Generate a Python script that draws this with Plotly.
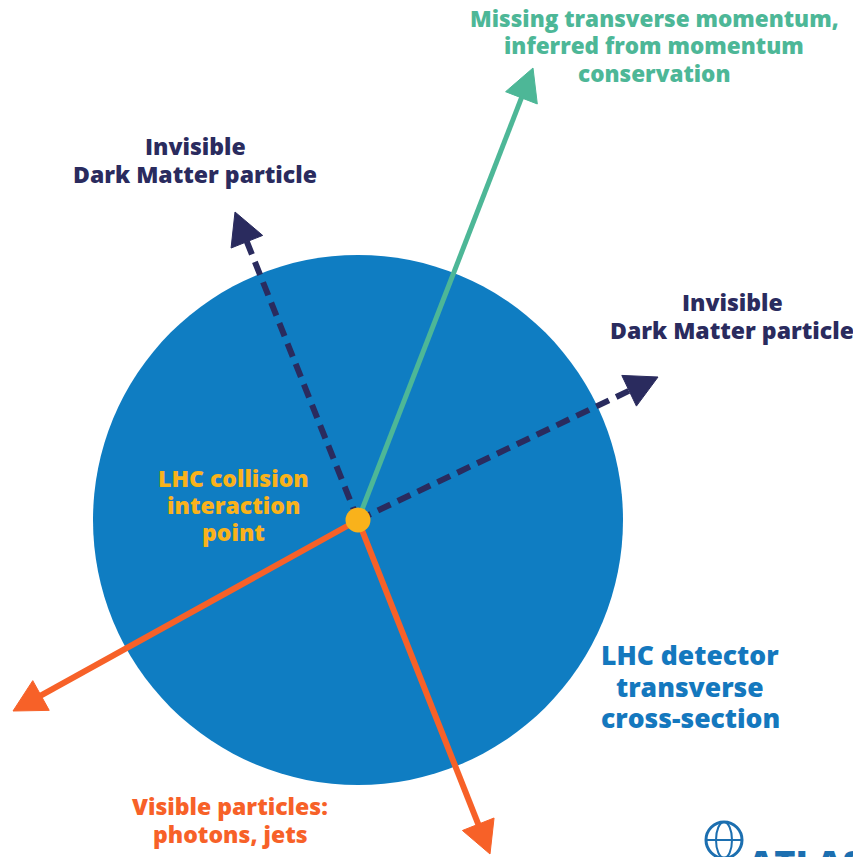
import numpy as np
import plotly.graph_objects as go

# ---- data (diagram coordinates in a 853 x 857 canvas, y downwards) ----
origin_xy = [358, 520]
detector_radius = 265

vec_names = ["dm1", "missing", "dm2", "vis_left", "vis_bottom"]
vec_tip_x = [235, 533, 658, 13, 490]
vec_tip_y = [212, 68, 377, 711, 854]
vec_colors = ["#2A2B5E", "#4DB797", "#2A2B5E", "#F76128", "#F76128"]
vec_dashed = [True, False, True, False, False]
vec_widths = [6, 5, 6, 6, 6]

label_lines = [
    ["Missing transverse momentum,", "inferred from momentum", "conservation"],
    ["Invisible", "Dark Matter particle"],
    ["Invisible", "Dark Matter particle"],
    ["LHC collision", "interaction", "point"],
    ["LHC detector", "transverse", "cross-section"],
    ["Visible particles:", "photons, jets"],
]
label_x = [654, 195, 732, 233, 690, 230]
label_first_y = [18, 146, 302, 478, 655, 806]
label_line_gap = [27.5, 27.5, 28, 27, 31.5, 28]
label_colors = ["#4DB797", "#2A2B5E", "#2A2B5E", "#F9B21B", "#1478BE", "#F76128"]
label_sizes = [22.5, 23, 23, 23, 26.5, 23]

W, H = 853, 857
fig = go.Figure()

ox, oy = origin_xy
# detector disc
fig.add_shape(type="circle", xref="x", yref="y",
              x0=ox - detector_radius, x1=ox + detector_radius,
              y0=oy - detector_radius, y1=oy + detector_radius,
              fillcolor="#0F7DC2", line=dict(width=0), layer="below")

L_head, W_head = 32, 17
for name, tx, ty, col, dashed, lw in zip(vec_names, vec_tip_x, vec_tip_y,
                                         vec_colors, vec_dashed, vec_widths):
    d = np.array([tx - ox, ty - oy], dtype=float)
    u = d / np.linalg.norm(d)
    n = np.array([-u[1], u[0]])
    base = np.array([tx, ty]) - L_head * u
    line_end = base + 4 * u
    fig.add_trace(go.Scatter(
        x=[ox, line_end[0]], y=[oy, line_end[1]], mode="lines",
        line=dict(color=col, width=lw, dash="14px,8px" if dashed else "solid"),
        hoverinfo="skip", showlegend=False))
    p1 = base + W_head * n
    p2 = base - W_head * n
    fig.add_trace(go.Scatter(
        x=[tx, p1[0], p2[0], tx], y=[ty, p1[1], p2[1], ty], mode="lines",
        fill="toself", fillcolor=col, line=dict(color=col, width=1),
        hoverinfo="skip", showlegend=False))

# interaction point
fig.add_trace(go.Scatter(x=[ox], y=[oy], mode="markers",
                         marker=dict(size=25, color="#F9B21B", line=dict(width=0)),
                         hoverinfo="skip", showlegend=False))

for lines, x, y0, gap, c, s in zip(label_lines, label_x, label_first_y,
                                   label_line_gap, label_colors, label_sizes):
    for i, t in enumerate(lines):
        fig.add_annotation(x=x, y=y0 + i * gap, xref="x", yref="y", text=t,
                           showarrow=False, align="center", xanchor="center",
                           yanchor="middle", borderpad=0,
                           font=dict(family="Open Sans", size=s, color=c, weight=800))

# ATLAS logo (partially visible at the bottom edge)
fig.add_shape(type="circle", xref="x", yref="y", x0=706, x1=742, y0=822, y1=858,
              line=dict(color="#1C6FB0", width=3))
fig.add_shape(type="circle", xref="x", yref="y", x0=716, x1=732, y0=822, y1=858,
              line=dict(color="#1C6FB0", width=2))
fig.add_shape(type="line", xref="x", yref="y", x0=707, x1=741, y0=840, y1=840,
              line=dict(color="#1C6FB0", width=2))
fig.add_annotation(x=746, y=836, xref="x", yref="y", text="ATLAS",
                   showarrow=False, xanchor="left", yanchor="top",
                   font=dict(family="Open Sans", size=36, color="#1C6FB0", weight=800))

fig.update_layout(
    width=W, height=H, margin=dict(l=0, r=0, t=0, b=0),
    paper_bgcolor="white", plot_bgcolor="white",
    xaxis=dict(range=[0, W], visible=False, fixedrange=True),
    yaxis=dict(range=[H, 0], visible=False, fixedrange=True),
    showlegend=False, hovermode=False,
)

fig.write_html("out.html",
               config={"displayModeBar": False, "staticPlot": True},
               post_script="document.body.style.margin='0';"
                           "document.body.style.overflow='hidden';")
